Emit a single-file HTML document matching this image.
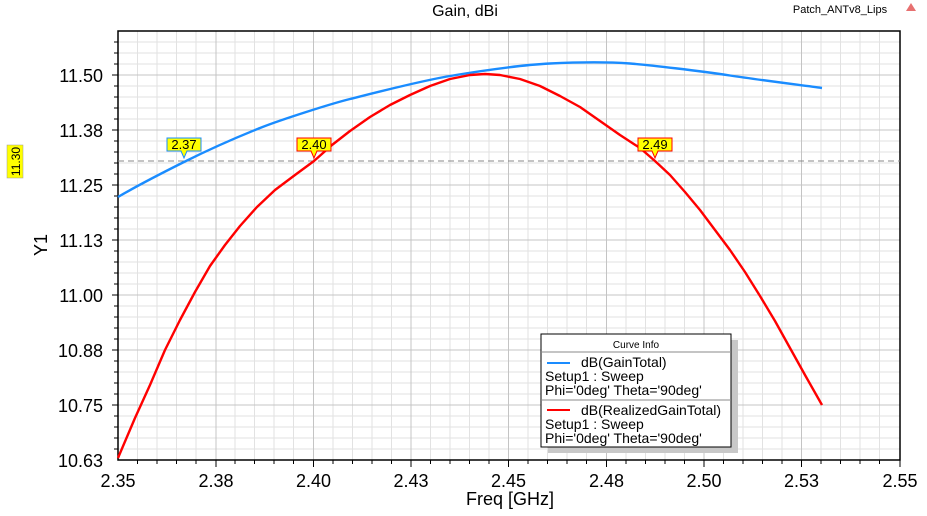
<!DOCTYPE html>
<html><head><style>body{margin:0;background:#fff}svg{font-family:"Liberation Sans",sans-serif}</style></head><body>
<svg width="927" height="511" xmlns="http://www.w3.org/2000/svg">
<rect width="927" height="511" fill="#fff"/>
<text x="465" y="16" font-size="16" text-anchor="middle">Gain, dBi</text>
<text x="840" y="13" font-size="11" text-anchor="middle">Patch_ANTv8_Lips</text>
<path d="M911 3 L916 11 L906 11Z" fill="#d33" opacity="0.7"/>
<g stroke="#e2e2e2" stroke-width="1">
<path d="M137.5 31V460M157 31V460M176.5 31V460M196 31V460M235 31V460M254.5 31V460M274 31V460M293.5 31V460M333 31V460M352.5 31V460M372 31V460M391.5 31V460M430.5 31V460M450 31V460M469.5 31V460M489 31V460M528 31V460M547.5 31V460M567 31V460M586.5 31V460M626 31V460M645.5 31V460M665 31V460M684.5 31V460M723.5 31V460M743 31V460M762.5 31V460M782 31V460M821 31V460M840.5 31V460M860 31V460M879.5 31V460"/>
<path d="M118 42H900M118 53H900M118 64H900M118 86H900M118 97H900M118 108H900M118 119H900M118 141H900M118 152H900M118 163H900M118 174H900M118 196H900M118 207H900M118 218H900M118 229H900M118 251H900M118 262H900M118 273H900M118 284H900M118 306H900M118 317H900M118 328H900M118 339H900M118 361H900M118 372H900M118 383H900M118 394H900M118 416H900M118 427H900M118 438H900M118 449H900"/>
</g>
<g stroke="#c4c4c4" stroke-width="1">
<path d="M216 31V460M313.5 31V460M411 31V460M508.5 31V460M606.5 31V460M704 31V460M801.5 31V460"/>
<path d="M118 75H900M118 130H900M118 185H900M118 240H900M118 295H900M118 350H900M118 405H900"/>
</g>
<path d="M118 31H900V460H118Z" fill="none" stroke="#000" stroke-width="1.5"/>
<g stroke="#000" stroke-width="1">
<path d="M112 75H118M112 130H118M112 185H118M112 240H118M112 295H118M112 350H118M112 405H118"/>
<path d="M114 42H118M114 53H118M114 64H118M114 86H118M114 97H118M114 108H118M114 119H118M114 141H118M114 152H118M114 163H118M114 174H118M114 196H118M114 207H118M114 218H118M114 229H118M114 251H118M114 262H118M114 273H118M114 284H118M114 306H118M114 317H118M114 328H118M114 339H118M114 361H118M114 372H118M114 383H118M114 394H118M114 416H118M114 427H118M114 438H118M114 449H118"/>
<path d="M216 460V467M313.5 460V467M411 460V467M508.5 460V467M606.5 460V467M704 460V467M801.5 460V467M900 460V467"/>
<path d="M137.5 460V464M157 460V464M176.5 460V464M196 460V464M235 460V464M254.5 460V464M274 460V464M293.5 460V464M333 460V464M352.5 460V464M372 460V464M391.5 460V464M430.5 460V464M450 460V464M469.5 460V464M489 460V464M528 460V464M547.5 460V464M567 460V464M586.5 460V464M626 460V464M645.5 460V464M665 460V464M684.5 460V464M723.5 460V464M743 460V464M762.5 460V464M782 460V464M821 460V464M840.5 460V464M860 460V464M879.5 460V464"/>
</g>
<g font-size="18" text-anchor="end">
<text x="103" y="82">11.50</text><text x="103" y="137">11.38</text><text x="103" y="192">11.25</text><text x="103" y="247">11.13</text><text x="103" y="302">11.00</text><text x="103" y="357">10.88</text><text x="103" y="412">10.75</text><text x="103" y="467">10.63</text>
</g>
<g font-size="18" text-anchor="middle">
<text x="118" y="487">2.35</text><text x="216" y="487">2.38</text><text x="313.5" y="487">2.40</text><text x="411" y="487">2.43</text><text x="508.5" y="487">2.45</text><text x="606.5" y="487">2.48</text><text x="704" y="487">2.50</text><text x="801.5" y="487">2.53</text><text x="900" y="487">2.55</text>
</g>
<text x="510" y="505" font-size="18" text-anchor="middle">Freq [GHz]</text>
<text transform="translate(47,245) rotate(-90)" font-size="18" text-anchor="middle">Y1</text>
<line x1="118" y1="161" x2="900" y2="161" stroke="#888" stroke-dasharray="6,4"/>
<rect x="7" y="145" width="16" height="33" fill="#ffff00" stroke="#999" stroke-width="0.5"/>
<text transform="translate(20,161.5) rotate(-90)" font-size="12" text-anchor="middle">11.30</text>
<path fill="none" stroke="#1a8cff" stroke-width="2.4" d="M118,197 C140,184 160,174 184,162 S240,136 260,128 S330,104 350,99 S420,81 450,76 S520,65 550,63.5 S610,62 630,63.5 S700,71 730,75.5 S800,85 822,88"/>
<polyline fill="none" stroke="#f00" stroke-width="2.4" stroke-linejoin="round" points="118,458 135,418 150,385 165,350 180,320 195,292 210,266 225,245 240,226 257,207 275,190 295,175 314,161 332,145 350,131 370,117 390,105 410,95 430,86 450,79 470,75 485,74 500,75 520,79 540,86 560,96 580,107 600,121 620,135 640,148 655,161 670,175 685,192 700,210 715,230 730,250 745,272 760,296 775,321 790,348 805,375 822,405"/>
<g font-size="13" text-anchor="middle">
<path d="M167 138H201V151H187L184 158L181 151H167Z" fill="#ffff00" stroke="#1a8cff"/>
<text x="184" y="149">2.37</text>
<path d="M297 138H331V151H317L314 158L311 151H297Z" fill="#ffff00" stroke="#f00"/>
<text x="314" y="149">2.40</text>
<path d="M638 138H672V151H658L655 158L652 151H638Z" fill="#ffff00" stroke="#f00"/>
<text x="655" y="149">2.49</text>
</g>
<rect x="548" y="340" width="190" height="113" fill="#c8c8c8"/>
<rect x="541" y="334" width="190" height="113" fill="#fff" stroke="#000"/>
<line x1="541" y1="352" x2="731" y2="352" stroke="#888"/>
<line x1="541" y1="400" x2="731" y2="400" stroke="#888"/>
<text x="636" y="348" font-size="10" text-anchor="middle">Curve Info</text>
<line x1="547" y1="363" x2="570" y2="363" stroke="#1a8cff" stroke-width="2"/>
<line x1="547" y1="410" x2="570" y2="410" stroke="#f00" stroke-width="2"/>
<g font-size="14">
<text x="581" y="367">dB(GainTotal)</text>
<text x="545" y="381">Setup1 : Sweep</text>
<text x="545" y="395">Phi='0deg' Theta='90deg'</text>
<text x="581" y="415">dB(RealizedGainTotal)</text>
<text x="545" y="429">Setup1 : Sweep</text>
<text x="545" y="443">Phi='0deg' Theta='90deg'</text>
</g>
</svg>
</body></html>
